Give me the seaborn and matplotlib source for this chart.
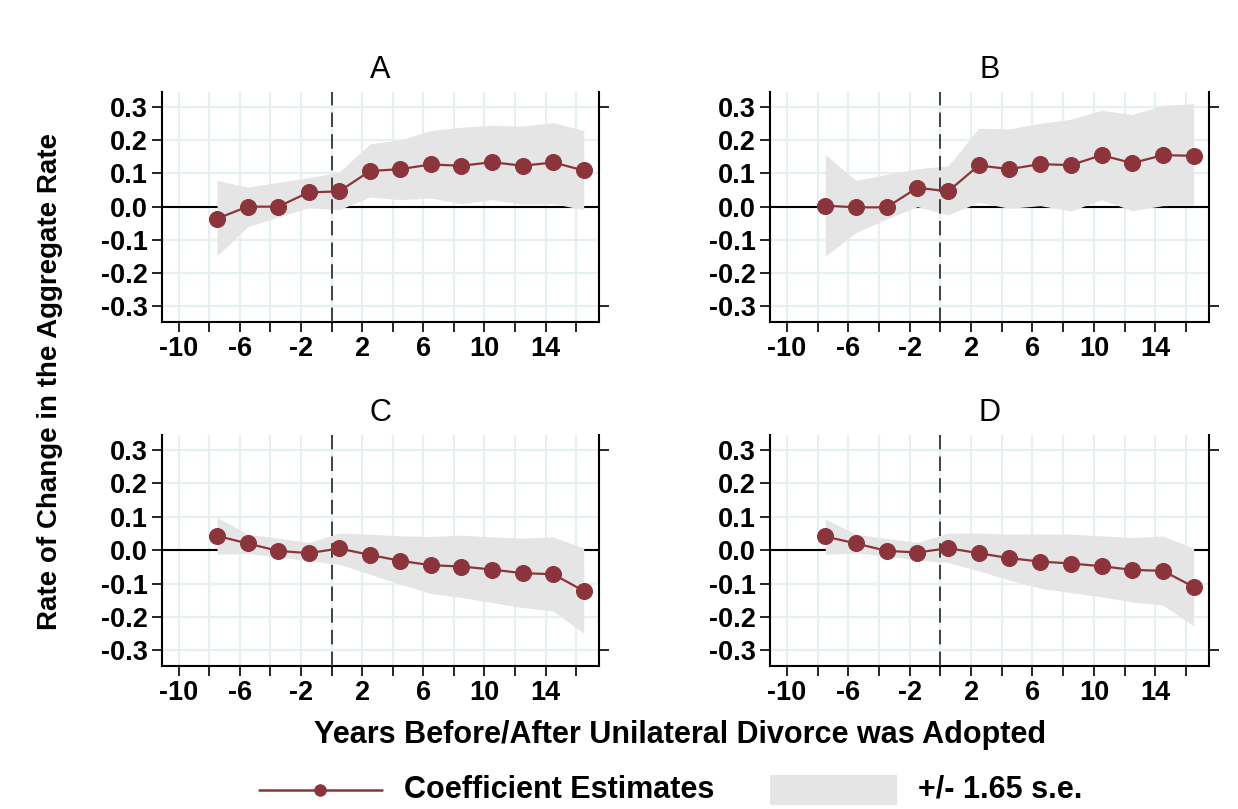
import numpy as np
import pandas as pd
import matplotlib
matplotlib.use("Agg")
import matplotlib.pyplot as plt
import seaborn as sns
from matplotlib.patches import Rectangle

sns.set_style("white")
plt.rcParams['font.family'] = ['Liberation Sans', 'DejaVu Sans']
plt.rcParams['text.color'] = 'black'
plt.rcParams['xtick.color'] = 'black'
plt.rcParams['ytick.color'] = 'black'

# event time (years relative to adoption)
years = [-7.5, -5.5, -3.5, -1.5, 0.5, 2.5, 4.5, 6.5, 8.5, 10.5, 12.5, 14.5, 16.5]

# panel A
coef_a = [-0.036, 0.0, 0.0, 0.043, 0.046, 0.107, 0.113, 0.127, 0.123, 0.134, 0.123, 0.133, 0.109]
hi_a = [0.079, 0.059, 0.073, 0.087, 0.104, 0.189, 0.201, 0.229, 0.239, 0.245, 0.242, 0.253, 0.229]
lo_a = [-0.148, -0.061, -0.031, -0.003, -0.009, 0.029, 0.021, 0.026, 0.009, 0.021, 0.007, 0.009, -0.009]
# panel B
coef_b = [0.003, -0.002, -0.002, 0.057, 0.046, 0.124, 0.113, 0.128, 0.125, 0.155, 0.131, 0.155, 0.153]
hi_b = [0.157, 0.079, 0.097, 0.114, 0.123, 0.236, 0.234, 0.251, 0.263, 0.290, 0.277, 0.305, 0.310]
lo_b = [-0.149, -0.078, -0.037, 0.0, -0.025, 0.013, -0.005, 0.003, -0.013, 0.021, -0.012, 0.003, 0.005]
# panel C
coef_c = [0.043, 0.020, -0.002, -0.009, 0.005, -0.014, -0.032, -0.045, -0.049, -0.058, -0.069, -0.072, -0.122]
hi_c = [0.098, 0.048, 0.036, 0.023, 0.051, 0.048, 0.043, 0.041, 0.045, 0.040, 0.036, 0.040, 0.006]
lo_c = [-0.012, -0.010, -0.020, -0.032, -0.042, -0.072, -0.102, -0.130, -0.142, -0.157, -0.172, -0.182, -0.249]
# panel D
coef_d = [0.041, 0.020, -0.002, -0.007, 0.006, -0.009, -0.024, -0.034, -0.040, -0.048, -0.059, -0.062, -0.110]
hi_d = [0.093, 0.048, 0.035, 0.023, 0.051, 0.051, 0.048, 0.048, 0.048, 0.043, 0.038, 0.042, 0.006]
lo_d = [-0.012, -0.009, -0.017, -0.030, -0.037, -0.062, -0.090, -0.114, -0.127, -0.140, -0.155, -0.165, -0.227]

panels = ['A', 'B', 'C', 'D']
coefs = [coef_a, coef_b, coef_c, coef_d]
his = [hi_a, hi_b, hi_c, hi_d]
los = [lo_a, lo_b, lo_c, lo_d]

xticks = list(range(-10, 17, 2))
xlabels = [str(t) if (t + 10) % 4 == 0 else '' for t in xticks]
yticks = [-0.3, -0.2, -0.1, 0.0, 0.1, 0.2, 0.3]

red = '#8c343c'
band = '#e5e5e5'
gridc = '#e6eff1'

fig = plt.figure(figsize=(12.38, 8.09), dpi=100)
W, H = 1238, 809
boxes = [(162, 92, 599, 322), (770, 92, 1209, 322),
         (162, 435, 599, 666), (770, 435, 1209, 666)]

for i, name in enumerate(panels):
    l, t, r, b = boxes[i]
    ax = fig.add_axes([l / W, 1 - b / H, (r - l) / W, (b - t) / H])
    df = pd.DataFrame({'year': years, 'coef': coefs[i], 'hi': his[i], 'lo': los[i]})

    for gx in xticks:
        ax.axvline(gx, color=gridc, lw=1.6, zorder=0)
    for gy in yticks:
        ax.axhline(gy, color=gridc, lw=1.6, zorder=0)
    ax.axhline(0, color='black', lw=1.5, zorder=1)
    ax.fill_between(df['year'], df['lo'], df['hi'], color=band, lw=0, zorder=2)
    ax.axvline(0, color='#333333', lw=1.3, ls=(0, (8, 4)), zorder=3)
    sns.lineplot(data=df, x='year', y='coef', ax=ax, color=red, lw=1.6,
                 marker='o', markersize=11.5, markeredgecolor=red, zorder=4)

    ax.set_xlim(-11.1, 17.5)
    ax.set_ylim(-0.347, 0.345)
    ax.set_xticks(xticks)
    ax.set_xticklabels(xlabels)
    ax.set_yticks(yticks)
    ax.set_yticklabels(['%.1f' % v for v in yticks])
    ax.set_xlabel('')
    ax.set_ylabel('')
    ax.set_title(name, fontsize=22, pad=10)

    ax.spines['top'].set_visible(False)
    for s in ['left', 'bottom', 'right']:
        ax.spines[s].set_color('black')
        ax.spines[s].set_linewidth(1.5)
    ax.tick_params(axis='both', direction='out', length=7, width=1.2,
                   color='black', labelsize=19.5, pad=3, left=True, bottom=True)
    for lab in ax.get_xticklabels() + ax.get_yticklabels():
        lab.set_fontweight('bold')

    # right-side ticks only at the extremes
    axr = ax.twinx()
    axr.set_ylim(ax.get_ylim())
    axr.set_yticks([-0.3, 0.3])
    axr.set_yticklabels([])
    axr.tick_params(axis='y', direction='out', length=7, width=1.2, color='black')
    for s in axr.spines.values():
        s.set_visible(False)

fig.text(50 / W, 1 - 382 / H, 'Rate of Change in the Aggregate Rate',
         rotation=90, ha='center', va='center', fontsize=20, fontweight='bold')
fig.text(680 / W, 1 - 735 / H, 'Years Before/After Unilateral Divorce was Adopted',
         ha='center', va='center', fontsize=22, fontweight='bold')

# legend strip along the bottom, laid out in pixel units
lg = fig.add_axes([0, 0, 1, 1], zorder=-1)
lg.set_xlim(0, W)
lg.set_ylim(H, 0)
lg.axis('off')
lg.plot([259, 382], [790, 790], color=red, lw=1.8)
lg.plot([320], [790], marker='o', color=red, markersize=8)
lg.text(404, 790, 'Coefficient Estimates', ha='left', va='center',
        fontsize=22, fontweight='bold')
lg.add_patch(Rectangle((770, 775), 127, 30, facecolor=band, edgecolor='none'))
lg.text(918, 790, '+/- 1.65 s.e.', ha='left', va='center',
        fontsize=22, fontweight='bold')

fig.savefig('out.png', dpi=100)
